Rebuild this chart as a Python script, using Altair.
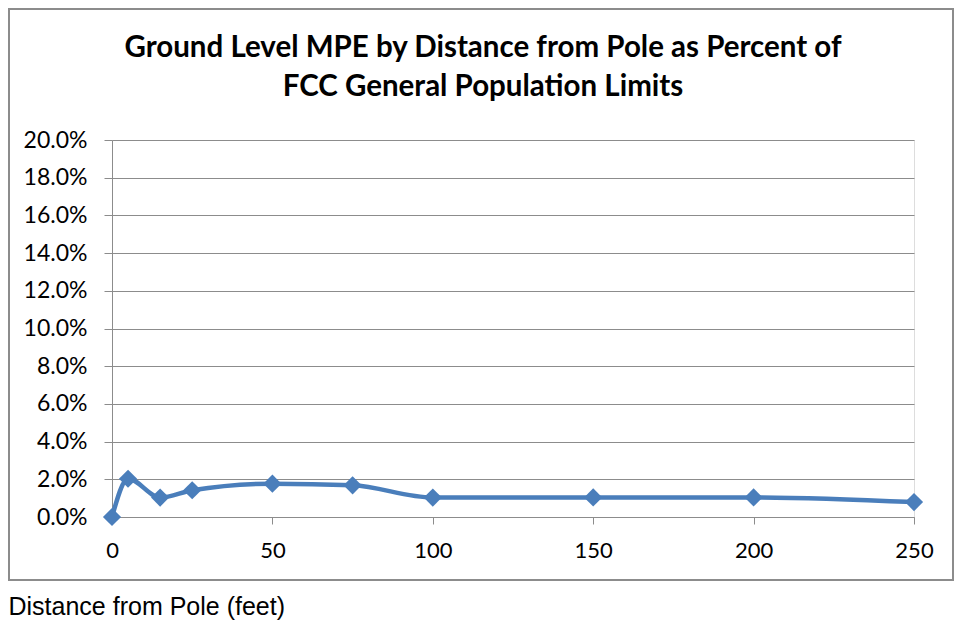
import altair as alt
import pandas as pd

distance_ft = [0, 5, 15, 25, 50, 75, 100, 150, 200, 250]
mpe_pct = [0.0, 0.0203, 0.0103, 0.0142, 0.0177, 0.0168, 0.0103, 0.0104, 0.0104, 0.0079]
y_ticks = [0.0, 0.02, 0.04, 0.06, 0.08, 0.10, 0.12, 0.14, 0.16, 0.18, 0.20]
x_ticks = [0, 50, 100, 150, 200, 250]
title_lines = ["Ground Level MPE by Distance from Pole as Percent of",
               "FCC General Population Limits"]

df = pd.DataFrame({"distance": distance_ft, "mpe": mpe_pct})

BLUE = "#4A7EBB"
GRID = "#8C8C8C"

x_enc = alt.X(
    "distance:Q",
    scale=alt.Scale(domain=[0, 250], nice=False),
    axis=alt.Axis(
        values=x_ticks,
        tickCount=20,
        title="Distance from Pole (feet)",
        titleFont="Liberation Sans",
        titleFontSize=25,
        titleFontWeight="normal",
        titleColor="#000000",
        titleAnchor="start",
        titleAlign="left",
        titleBaseline="middle",
        titleX=-104,
        titleY=89,
        labelFont="Lato",
        labelFontSize=22,
        labelColor="#000000",
        labelPadding=16,
        labelFlush=False,
        labelOverlap=False,
        tickSize=7,
        tickColor=GRID,
        domainColor=GRID,
        grid=False,
    ),
)
y_enc = alt.Y(
    "mpe:Q",
    scale=alt.Scale(domain=[0, 0.2], nice=False),
    axis=alt.Axis(
        values=y_ticks,
        tickCount=20,
        format=".1%",
        title=None,
        labelFont="Lato",
        labelFontSize=23,
        labelColor="#000000",
        labelPadding=17,
        labelFlush=False,
        labelOverlap=False,
        tickSize=8,
        tickColor=GRID,
        domainColor=GRID,
        gridColor=GRID,
        gridWidth=1.2,
        grid=True,
    ),
)

line = alt.Chart(df).mark_line(
    color=BLUE, strokeWidth=4.5, interpolate="monotone"
).encode(x=x_enc, y=y_enc)

points = alt.Chart(df).mark_point(
    shape="diamond", filled=True, color=BLUE, size=330, opacity=1
).encode(x="distance:Q", y="mpe:Q")

border = alt.Chart(df).mark_rect(
    fill=None, stroke=GRID, strokeWidth=2, clip=False
).encode(
    x=alt.value(-103), x2=alt.value(841), y=alt.value(-131), y2=alt.value(440)
)

title1 = alt.Chart(pd.DataFrame({"t": [title_lines[0]]})).mark_text(
    font="Lato", fontSize=29.5, fontWeight="bold", color="#000000",
    align="center", baseline="middle"
).encode(text="t:N", x=alt.value(371), y=alt.value(-92))

title2 = alt.Chart(pd.DataFrame({"t": [title_lines[1]]})).mark_text(
    font="Lato", fontSize=29.5, fontWeight="bold", color="#000000",
    align="center", baseline="middle"
).encode(text="t:N", x=alt.value(371), y=alt.value(-53))

chart = alt.layer(border, line, points, title1, title2).properties(
    width=802,
    height=377,
    padding={"left": 104, "top": 132, "right": 41, "bottom": 106},
    autosize=alt.AutoSizeParams(type="none"),
).configure_view(stroke=None).configure(background="white")

chart.save("out.html", embed_options={"renderer": "svg", "actions": False})
